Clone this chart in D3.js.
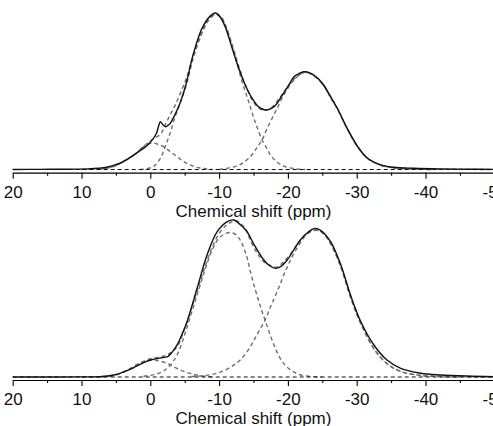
<!DOCTYPE html>
<html>
<head>
<meta charset="utf-8">
<script src="https://cdn.jsdelivr.net/npm/d3@7/dist/d3.min.js"></script>
<style>
  html, body { margin: 0; padding: 0; background: #fff; }
  svg { display: block; }
  .tick text { font-family: "Liberation Sans", Arial, sans-serif; }
</style>
</head>
<body>
<div id="chart"></div>
<script>
// 数据：[化学位移 ppm, 相对强度]
const xTicks = [20, 10, 0, -10, -20, -30, -40, -50];
const xMinorTicks = [15, 5, -5, -15, -25, -35, -45];
const xTitle = 'Chemical shift (ppm)';

// 上图
const topSpectrum = [
  [20, 0], [16, 0.001], [12, 0.002], [9, 0.004], [7.5, 0.008], [6.5, 0.013], [5.5, 0.025],
  [4.4, 0.04], [3.4, 0.063], [2.4, 0.093], [1.5, 0.12], [1, 0.135], [0.3, 0.16], [-0.25, 0.188],
  [-0.7, 0.215], [-0.97, 0.24], [-1.25, 0.285], [-1.46, 0.305], [-1.8, 0.288], [-2.2, 0.273],
  [-2.5, 0.28], [-2.9, 0.295], [-3.4, 0.335], [-3.9, 0.38], [-4.4, 0.433], [-5.1, 0.53],
  [-6.3, 0.745], [-7.5, 0.9], [-8.7, 0.98], [-9.5, 1.0], [-10.3, 0.965], [-10.9, 0.91],
  [-11.9, 0.775], [-12.85, 0.647], [-13.8, 0.54], [-14.8, 0.455], [-15.75, 0.4], [-16.7, 0.38],
  [-17.95, 0.4], [-19.2, 0.476], [-20.2, 0.545], [-20.9, 0.593], [-21.6, 0.612], [-22.3, 0.625],
  [-23.2, 0.618], [-24.3, 0.585], [-25.2, 0.54], [-26.2, 0.465], [-27.2, 0.39], [-28.6, 0.265],
  [-30.1, 0.15], [-31.5, 0.075], [-33.5, 0.03], [-35.4, 0.014], [-38.3, 0.008], [-42, 0.004],
  [-46, 0.002], [-50, 0.001]
];
const topFit = [
  [10, 0.001], [8, 0.003], [7, 0.006], [6, 0.012], [5, 0.026], [4.4, 0.04], [3.4, 0.066],
  [2.4, 0.092], [1.5, 0.128], [0.5, 0.165], [-0.25, 0.19], [-1, 0.21], [-1.5, 0.225],
  [-2.2, 0.29], [-2.9, 0.35], [-3.6, 0.41], [-4.3, 0.48], [-5.3, 0.59], [-6.3, 0.74],
  [-7.7, 0.9], [-8.5, 0.96], [-9.5, 0.995], [-10.3, 0.975], [-11, 0.915], [-12, 0.785],
  [-13, 0.64], [-14, 0.52], [-15, 0.43], [-16, 0.385], [-16.7, 0.38], [-17.5, 0.39],
  [-18.5, 0.44], [-19.5, 0.5], [-20.5, 0.56], [-21.5, 0.6], [-22.3, 0.62], [-23.2, 0.615],
  [-24.3, 0.585], [-25.2, 0.535], [-26.2, 0.465], [-27.2, 0.39], [-28.6, 0.262], [-30.1, 0.148],
  [-31.5, 0.073], [-33.5, 0.028], [-35.4, 0.012], [-38.3, 0.005], [-42, 0.002], [-50, 0]
];
const topPeakA = [
  [7.5, 0.003], [6, 0.01], [5, 0.025], [4.4, 0.04], [3.4, 0.065], [2.4, 0.09], [1.5, 0.125],
  [0.5, 0.16], [-0.25, 0.17], [-1, 0.163], [-1.9, 0.146], [-2.9, 0.115], [-3.9, 0.082],
  [-4.8, 0.052], [-5.8, 0.029], [-6.8, 0.014], [-7.8, 0.006], [-9, 0]
];
const topPeakB = [
  [1.5, 0], [0.5, 0.005], [-0.5, 0.02], [-1.5, 0.075], [-2.2, 0.15], [-2.9, 0.235],
  [-3.6, 0.335], [-4.3, 0.42], [-5.3, 0.55], [-6.3, 0.72], [-7.7, 0.89], [-8.5, 0.955],
  [-9.5, 0.99], [-10.3, 0.97], [-11, 0.91], [-12, 0.77], [-12.4, 0.71], [-13.35, 0.56],
  [-14.3, 0.433], [-15.05, 0.327], [-15.5, 0.273], [-16.25, 0.19], [-17, 0.13], [-17.5, 0.09],
  [-18.5, 0.045], [-19.5, 0.02], [-21, 0.005], [-22.5, 0]
];
const topPeakC = [
  [-10, 0], [-11.5, 0.01], [-13, 0.03], [-14.5, 0.08], [-15.5, 0.14], [-16.25, 0.19],
  [-16.95, 0.26], [-18.2, 0.37], [-19.4, 0.476], [-20.4, 0.545], [-21.3, 0.59], [-22.3, 0.62],
  [-23.2, 0.613], [-24.3, 0.58], [-25.2, 0.535], [-26.2, 0.46], [-27.2, 0.385], [-28.6, 0.26],
  [-30.1, 0.145], [-31.5, 0.072], [-33.5, 0.027], [-35.4, 0.01], [-38, 0.003], [-41, 0]
];

// 下图
const bottomSpectrum = [
  [20, 0], [15, 0], [10, 0.001], [7.3, 0.002], [6.2, 0.006], [5.3, 0.013], [4.3, 0.025],
  [3.4, 0.04], [2.4, 0.06], [1.46, 0.081], [0.7, 0.097], [0, 0.108], [-1.2, 0.119],
  [-2.0, 0.125], [-2.6, 0.132], [-3.2, 0.16], [-3.9, 0.204], [-4.6, 0.27], [-5.34, 0.352],
  [-6.8, 0.565], [-8.25, 0.777], [-9.7, 0.925], [-11.2, 0.99], [-12.1, 1.0], [-13.1, 0.97],
  [-14.0, 0.93], [-15.0, 0.85], [-16.5, 0.745], [-17.3, 0.71], [-18.2, 0.692], [-19.0, 0.705],
  [-19.9, 0.745], [-21.8, 0.873], [-23.0, 0.925], [-23.8, 0.945], [-24.7, 0.936], [-26.2, 0.862],
  [-27.7, 0.713], [-29.1, 0.522], [-30.6, 0.352], [-32.5, 0.204], [-34.4, 0.108], [-36.4, 0.055],
  [-39.3, 0.024], [-42.2, 0.013], [-46, 0.006], [-50, 0.002]
];
const bottomFit = [
  [10, 0], [8, 0.001], [6, 0.005], [5, 0.013], [4, 0.03], [3, 0.052], [2, 0.079], [1, 0.1],
  [0, 0.116], [-1, 0.125], [-2, 0.134], [-3, 0.155], [-4, 0.2], [-5, 0.31], [-6, 0.44],
  [-7, 0.575], [-8, 0.71], [-9, 0.827], [-10, 0.913], [-11, 0.965], [-11.7, 0.985],
  [-12.5, 0.995], [-13.1, 0.98], [-14, 0.93], [-14.55, 0.87], [-15.3, 0.805], [-16, 0.76],
  [-16.7, 0.725], [-17.5, 0.71], [-18.4, 0.7], [-19.4, 0.735], [-20.4, 0.785], [-21.5, 0.85],
  [-22.8, 0.915], [-24, 0.935], [-25, 0.92], [-26.2, 0.85], [-27.7, 0.7], [-29.1, 0.51],
  [-30.6, 0.34], [-32.5, 0.18], [-34.4, 0.085], [-36.4, 0.035], [-39.3, 0.01], [-42, 0.003],
  [-50, 0]
];
const bottomPeakA = [
  [6, 0.005], [5, 0.013], [4, 0.03], [3, 0.05], [2, 0.075], [1, 0.095], [0, 0.106],
  [-0.5, 0.108], [-1, 0.105], [-2, 0.094], [-3, 0.075], [-4, 0.052], [-5, 0.034], [-6, 0.02],
  [-7, 0.01], [-8, 0.004], [-9, 0]
];
const bottomPeakB = [
  [1, 0.005], [0, 0.01], [-1, 0.02], [-2, 0.04], [-3, 0.08], [-4, 0.15], [-5, 0.27], [-6, 0.41],
  [-7, 0.55], [-8, 0.69], [-9, 0.81], [-10, 0.885], [-11, 0.915], [-11.7, 0.92], [-12.5, 0.905],
  [-13.1, 0.87], [-14, 0.77], [-14.55, 0.67], [-15.3, 0.55], [-16, 0.45], [-16.7, 0.36],
  [-17.5, 0.26], [-18.4, 0.16], [-19.4, 0.085], [-20.4, 0.045], [-21.5, 0.018], [-23, 0.005],
  [-25, 0]
];
const bottomPeakC = [
  [-6, 0.003], [-8, 0.01], [-10, 0.028], [-12, 0.072], [-13.1, 0.11], [-14.5, 0.19],
  [-15.5, 0.27], [-16.7, 0.365], [-17.5, 0.45], [-18.4, 0.54], [-19.9, 0.7], [-21.3, 0.82],
  [-22.8, 0.91], [-24, 0.935], [-25, 0.92], [-26.2, 0.85], [-27.7, 0.7], [-29.1, 0.51],
  [-30.6, 0.34], [-32.5, 0.18], [-34.4, 0.085], [-36.4, 0.035], [-39.3, 0.01], [-42, 0.003],
  [-45, 0]
];

(function() {
  'use strict';

  const WIDTH = 493;
  const HEIGHT = 426;

  // 两个面板的位置
  const panels = [
    { axisY: 172.7, baseY: 169.5, topY: 13, spectrum: topSpectrum, fit: topFit,
      peaks: [topPeakA, topPeakB, topPeakC] },
    { axisY: 380, baseY: 377, topY: 220, spectrum: bottomSpectrum, fit: bottomFit,
      peaks: [bottomPeakA, bottomPeakB, bottomPeakC] }
  ];

  const svg = d3.select('#chart')
    .append('svg')
    .attr('width', WIDTH)
    .attr('height', HEIGHT)
    .attr('viewBox', `0 0 ${WIDTH} ${HEIGHT}`);

  // x 轴反向：20 在左，-50 在右
  const x = d3.scaleLinear().domain([20, -50]).range([12.7, 494.3]);

  panels.forEach(p => {
    const y = d3.scaleLinear().domain([0, 1]).range([p.baseY, p.topY]);
    const line = d3.line()
      .x(d => x(d[0]))
      .y(d => y(d[1]))
      .curve(d3.curveCatmullRom.alpha(0.5));

    const g = svg.append('g');

    // 分峰（灰色虚线）
    p.peaks.forEach(pk => {
      g.append('path')
        .datum(pk)
        .attr('d', line)
        .attr('fill', 'none')
        .attr('stroke', '#6e6e6e')
        .attr('stroke-width', 1.4)
        .attr('stroke-dasharray', '4,3');
    });

    // 拟合曲线
    g.append('path')
      .datum(p.fit)
      .attr('d', line)
      .attr('fill', 'none')
      .attr('stroke', '#6e6e6e')
      .attr('stroke-width', 1.4)
      .attr('stroke-dasharray', '4,3');

    // 基线
    g.append('path')
      .datum([[20, 0], [-50, 0]])
      .attr('d', d3.line().x(d => x(d[0])).y(d => y(d[1])))
      .attr('fill', 'none')
      .attr('stroke', '#111')
      .attr('stroke-width', 1.1)
      .attr('stroke-dasharray', '4,3');

    // 实验谱
    g.append('path')
      .datum(p.spectrum)
      .attr('d', line)
      .attr('fill', 'none')
      .attr('stroke', '#111')
      .attr('stroke-width', 1.4);

    // 坐标轴
    const axis = g.append('g')
      .attr('transform', `translate(0,${p.axisY})`)
      .call(d3.axisBottom(x)
        .tickValues(xTicks)
        .tickSize(6)
        .tickSizeOuter(0)
        .tickPadding(7.2)
        .tickFormat(d => String(d)));
    axis.select('.domain').attr('stroke', '#000').attr('stroke-width', 1.2);
    axis.selectAll('.tick line').attr('stroke', '#000').attr('stroke-width', 1.1);
    axis.selectAll('.tick text')
      .attr('fill', '#111')
      .attr('font-size', '17px');

    const minor = g.append('g')
      .attr('transform', `translate(0,${p.axisY})`)
      .call(d3.axisBottom(x)
        .tickValues(xMinorTicks)
        .tickSize(3)
        .tickSizeOuter(0)
        .tickFormat(''));
    minor.select('.domain').remove();
    minor.selectAll('.tick line').attr('stroke', '#000').attr('stroke-width', 1.1);

    g.append('text')
      .attr('x', (x.range()[0] + x.range()[1]) / 2)
      .attr('y', p.axisY + 43.8)
      .attr('text-anchor', 'middle')
      .attr('font-family', '"Liberation Sans", Arial, sans-serif')
      .attr('font-size', '17px')
      .attr('fill', '#111')
      .text(xTitle);
  });
})();
</script>
</body>
</html>
